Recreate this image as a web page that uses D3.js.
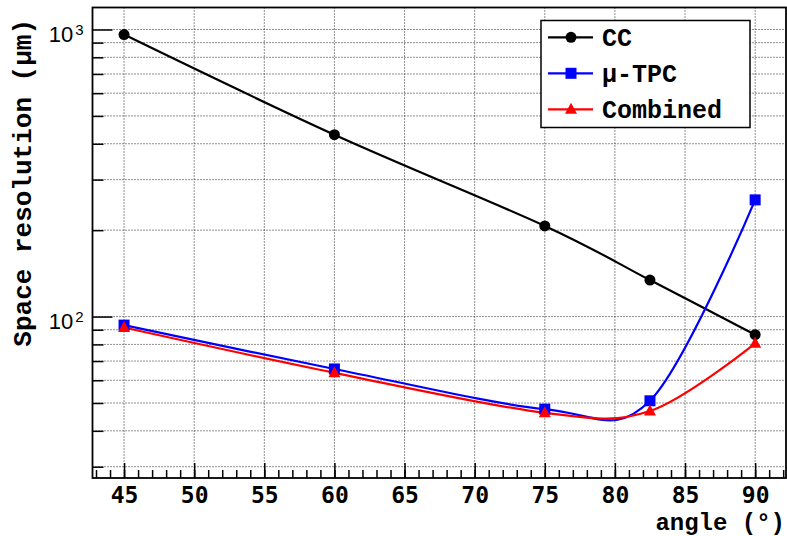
<!DOCTYPE html>
<html>
<head>
<meta charset="utf-8">
<script src="https://cdn.jsdelivr.net/npm/d3@7"></script>
<style>
  body { margin: 0; background: #fff; }
  svg { display: block; }
</style>
</head>
<body>
<div id="chart"></div>
<script>
// data
const angles = [45, 60, 75, 82.5, 90];
const ccRes = [960, 430, 207, 134, 86.5];
const tpcRes = [93.4, 65.7, 47.6, 50.9, 255];
const combinedRes = [91.6, 63.7, 46.2, 46.9, 80.7];

const seriesNames = ["CC", "\u03bc-TPC", "Combined"];
const seriesColors = ["#000000", "#0000ff", "#ff0000"];
const seriesShapes = ["circle", "square", "triangle"];

const xMajorTicks = [45, 50, 55, 60, 65, 70, 75, 80, 85, 90];
const yMajorTicks = [100, 1000];
const yMajorLabels = [["10", "2"], ["10", "3"]];
const yMinorTicks = [30, 40, 50, 60, 70, 80, 90, 200, 300, 400, 500, 600, 700, 800, 900];

const W = 787, H = 536;
const frame = { left: 92.5, top: 7.5, right: 786, bottom: 478 };

const svg = d3.select("#chart").append("svg")
  .attr("width", W)
  .attr("height", H);

const x = d3.scaleLinear().domain([42.75, 92.2]).range([frame.left, frame.right]);
const y = d3.scaleLog().domain([27.4, 1193]).range([frame.bottom, frame.top]);

// grid
svg.append("g")
  .selectAll("line")
  .data(xMajorTicks)
  .enter().append("line")
  .attr("x1", d => x(d)).attr("x2", d => x(d))
  .attr("y1", frame.top).attr("y2", frame.bottom)
  .attr("stroke", "#222").attr("stroke-width", 1)
  .attr("stroke-dasharray", "1,2");

svg.append("g")
  .selectAll("line")
  .data(yMajorTicks.concat(yMinorTicks))
  .enter().append("line")
  .attr("x1", frame.left).attr("x2", frame.right)
  .attr("y1", d => y(d)).attr("y2", d => y(d))
  .attr("stroke", "#222").attr("stroke-width", 1)
  .attr("stroke-dasharray", "1,2");

// Axes
svg.append("g")
  .attr("transform", `translate(0,${frame.bottom})`)
  .call(d3.axisBottom(x).tickValues(d3.range(43, 93, 1)).tickSize(-8).tickFormat(""));

const xMajor = svg.append("g")
  .attr("transform", `translate(0,${frame.bottom})`)
  .call(d3.axisBottom(x).tickValues(xMajorTicks).tickSize(-15).tickPadding(9).tickFormat(d3.format("d")));

xMajor.selectAll("text")
  .attr("fill", "black")
  .style("font-family", "'DejaVu Sans Mono', monospace")
  .style("font-weight", "bold")
  .style("font-size", "23px");

svg.append("g")
  .attr("transform", `translate(${frame.left},0)`)
  .call(d3.axisLeft(y).tickValues(yMinorTicks).tickSize(-11).tickFormat(""));

svg.append("g")
  .attr("transform", `translate(${frame.left},0)`)
  .call(d3.axisLeft(y).tickValues(yMajorTicks).tickSize(-20).tickFormat(""));

svg.selectAll("path.domain").remove();
svg.selectAll(".tick line")
  .style("stroke", "black")
  .style("stroke-width", "1.5px");

// y labels as 10^n
const yLab = svg.append("g")
  .selectAll("text")
  .data(yMajorTicks)
  .enter().append("text")
  .attr("x", frame.left - 9)
  .attr("y", d => y(d) + 12.8)
  .attr("text-anchor", "end")
  .attr("fill", "black")
  .style("font-family", "'Liberation Sans', Arial, sans-serif")
  .style("font-size", "22px");
yLab.append("tspan").text((d, i) => yMajorLabels[i][0]);
yLab.append("tspan")
  .attr("dy", -7)
  .attr("dx", 2)
  .style("font-size", "15px")
  .text((d, i) => yMajorLabels[i][1]);

// frame
svg.append("rect")
  .attr("x", frame.left).attr("y", frame.top)
  .attr("width", frame.right - frame.left)
  .attr("height", frame.bottom - frame.top)
  .attr("fill", "none")
  .attr("stroke", "black")
  .attr("stroke-width", 1.8);

// axis titles
svg.append("text")
  .attr("transform", "translate(31,19) rotate(-90)")
  .attr("text-anchor", "end")
  .attr("fill", "black")
  .style("font-family", "'Liberation Mono', 'Courier New', monospace")
  .style("font-weight", "bold")
  .style("font-size", "26px")
  .text("Space resolution (\u03bcm)");

svg.append("text")
  .attr("x", 785)
  .attr("y", 530)
  .attr("text-anchor", "end")
  .attr("fill", "black")
  .style("font-family", "'Liberation Mono', 'Courier New', monospace")
  .style("font-weight", "bold")
  .style("font-size", "24px")
  .text("angle (\u00b0)");

// series
const allSeries = [ccRes, tpcRes, combinedRes].map((vals, i) => ({
  name: seriesNames[i],
  color: seriesColors[i],
  shape: seriesShapes[i],
  points: angles.map((a, j) => ({ a, v: vals[j] }))
}));

const line = d3.line()
  .x(d => x(d.a))
  .y(d => y(d.v))
  .curve(d3.curveCardinal.tension(0));

function drawMarker(g, shape, color, cx, cy) {
  if (shape === "circle") {
    g.append("circle").attr("cx", cx).attr("cy", cy).attr("r", 5.5).attr("fill", color);
  } else if (shape === "square") {
    g.append("rect").attr("x", cx - 5.5).attr("y", cy - 5.5).attr("width", 11).attr("height", 11).attr("fill", color);
  } else {
    g.append("path")
      .attr("d", `M${cx},${cy - 6.5}L${cx + 6},${cy + 4.5}L${cx - 6},${cy + 4.5}Z`)
      .attr("fill", color);
  }
}

allSeries.forEach(s => {
  svg.append("path")
    .datum(s.points)
    .attr("d", line)
    .attr("fill", "none")
    .attr("stroke", s.color)
    .attr("stroke-width", 2.2);
});

allSeries.forEach(s => {
  const g = svg.append("g");
  s.points.forEach(p => drawMarker(g, s.shape, s.color, x(p.a), y(p.v)));
});

// Legend
const legend = svg.append("g");
legend.append("rect")
  .attr("x", 541).attr("y", 20.5)
  .attr("width", 209).attr("height", 107)
  .attr("fill", "white")
  .attr("stroke", "black")
  .attr("stroke-width", 1.5);

const rowY = [37.3, 73.3, 109.3];
allSeries.forEach((s, i) => {
  const g = legend.append("g");
  g.append("line")
    .attr("x1", 548).attr("x2", 593)
    .attr("y1", rowY[i]).attr("y2", rowY[i])
    .attr("stroke", s.color)
    .attr("stroke-width", 2.2);
  drawMarker(g, s.shape, s.color, 571, rowY[i]);
  g.append("text")
    .attr("x", 602)
    .attr("y", rowY[i])
    .attr("dy", "0.35em")
    .attr("fill", "black")
    .style("font-family", "'Liberation Mono', 'Courier New', monospace")
    .style("font-weight", "bold")
    .style("font-size", "25px")
    .text(s.name);
});
</script>
</body>
</html>
